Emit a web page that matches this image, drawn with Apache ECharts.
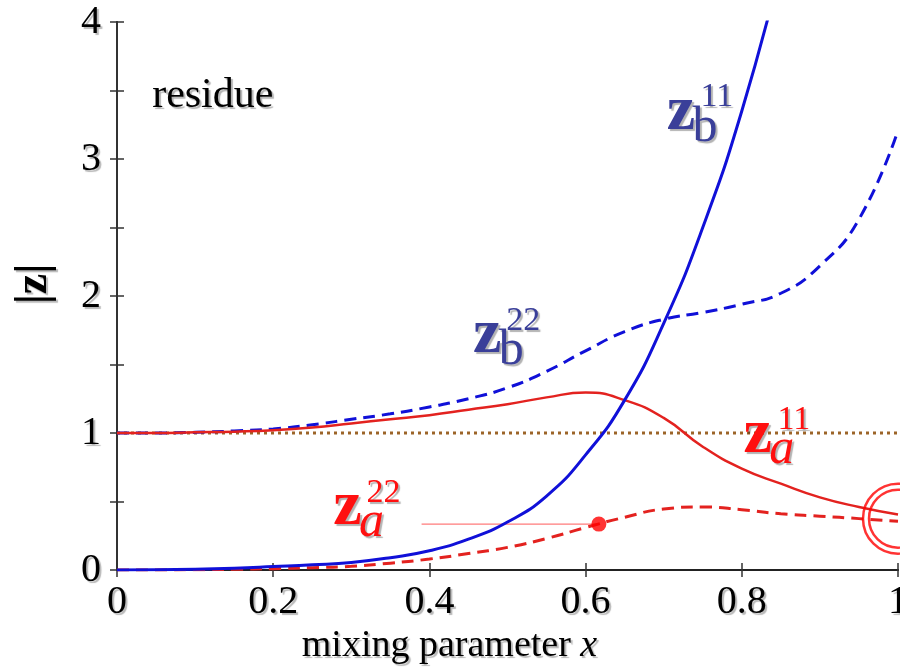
<!DOCTYPE html>
<html>
<head>
<meta charset="utf-8">
<script src="https://cdn.jsdelivr.net/npm/echarts@6/dist/echarts.min.js"></script>
<style>
  html, body { margin: 0; padding: 0; background: #fff; }
  #main { width: 900px; height: 667px; }
</style>
</head>
<body>
<div id="main"></div>
<script>
var zb11 = [[0, 0], [0.05, 0.001], [0.1, 0.005], [0.15, 0.013], [0.2, 0.025], [0.25, 0.038], [0.3, 0.055],
  [0.35, 0.09], [0.4, 0.14], [0.45, 0.225], [0.5, 0.35], [0.55, 0.54], [0.6, 0.84], [0.65, 1.24],
  [0.7, 1.8], [0.75, 2.5], [0.8, 3.35], [0.85, 4.4]]
var zb22 = [[0, 1], [0.05, 1.0], [0.1, 1.005], [0.15, 1.015], [0.2, 1.03], [0.25, 1.06], [0.3, 1.1],
  [0.35, 1.14], [0.4, 1.19], [0.45, 1.25], [0.5, 1.33], [0.55, 1.45], [0.6, 1.6], [0.65, 1.74],
  [0.7, 1.83], [0.75, 1.88], [0.8, 1.94], [0.85, 2.02], [0.9, 2.22], [0.95, 2.56], [1.0, 3.21]]
var za11 = [[0, 1], [0.05, 1.0], [0.1, 1.005], [0.15, 1.01], [0.2, 1.02], [0.25, 1.04], [0.3, 1.07],
  [0.35, 1.1], [0.4, 1.13], [0.45, 1.17], [0.5, 1.21], [0.55, 1.26], [0.6, 1.295], [0.65, 1.24],
  [0.7, 1.11], [0.75, 0.9], [0.8, 0.74], [0.85, 0.63], [0.9, 0.53], [0.95, 0.46], [1.0, 0.405]]
var za22 = [[0, 0], [0.05, 0], [0.1, 0.002], [0.15, 0.005], [0.2, 0.01], [0.25, 0.017], [0.3, 0.027],
  [0.35, 0.05], [0.4, 0.08], [0.45, 0.12], [0.5, 0.165], [0.55, 0.23], [0.6, 0.31], [0.65, 0.385],
  [0.7, 0.445], [0.75, 0.46], [0.8, 0.44], [0.85, 0.41], [0.9, 0.393], [0.95, 0.375], [1.0, 0.355]]
var unity = [[0, 1], [1, 1]]
var marker = [[0.617, 0.335]]
var markerGuide = [[0.39, 0.335], [0.617, 0.335]]
var ring = [[1.0, 0.375]]

var xTicks = { min: 0, max: 1, interval: 0.2 }
var yTicks = { min: 0, max: 4, interval: 0.5 }

var serif = '"Liberation Serif", "DejaVu Serif", serif'
var shadow = { textShadowColor: 'rgba(0,0,0,0.28)', textShadowOffsetX: 2, textShadowOffsetY: 2, textShadowBlur: 1 }
var blueLbl = '#3a3f99'
var redLbl = '#ff1010'

// label anchors (data coords of the big "z"), sub = subscript letter, sup = superscript
var labels = [
  { at: [0.722, 3.34], sub: 'b', sup: '11', color: blueLbl, italic: false },
  { at: [0.474, 1.71], sub: 'b', sup: '22', color: blueLbl, italic: false },
  { at: [0.8205, 0.985], sub: 'a', sup: '11', color: redLbl, italic: true },
  { at: [0.295, 0.453], sub: 'a', sup: '22', color: redLbl, italic: true }
]

var chart = echarts.init(document.getElementById('main'))

var tickLabel = Object.assign({ fontFamily: serif, fontSize: 40, color: '#000' }, shadow)

var option = {
  backgroundColor: '#fff',
  animation: false,
  grid: { left: 117, right: 2, top: 22, bottom: 97, outerBoundsMode: 'none', containLabel: false },
  xAxis: [
    {
      type: 'value', min: xTicks.min, max: xTicks.max, interval: xTicks.interval,
      name: 'mixing parameter {i|x}', nameLocation: 'middle', nameGap: 50,
      // right padding pulls the title a bit left of the axis middle, like the original
      nameTextStyle: Object.assign({ fontFamily: serif, fontSize: 38, color: '#000', padding: [0, 116, 0, 0],
        rich: { i: Object.assign({ fontFamily: serif, fontSize: 38, fontStyle: 'italic', color: '#000' }, shadow) } }, shadow),
      axisLine: { lineStyle: { color: '#333', width: 2 } },
      axisTick: { inside: true, length: 7, lineStyle: { color: '#333', width: 1.5 } },
      axisLabel: Object.assign({ margin: 12 }, tickLabel),
      splitLine: { show: false }
    },
    {
      type: 'value', position: 'top', min: xTicks.min, max: xTicks.max, interval: xTicks.interval,
      axisLine: { lineStyle: { color: '#222', width: 2 } },
      axisTick: { inside: true, length: 7, lineStyle: { color: '#333', width: 1.5 } },
      axisLabel: { show: false },
      splitLine: { show: false }
    }
  ],
  yAxis: [
    {
      type: 'value', min: yTicks.min, max: yTicks.max, interval: yTicks.interval,
      name: '|z|', nameLocation: 'middle', nameGap: 60, nameRotate: 90,
      nameTextStyle: Object.assign({ fontFamily: serif, fontSize: 46, fontWeight: 'bold', color: '#000', padding: [0, 0, 0, 24] }, shadow),
      axisLine: { lineStyle: { color: '#333', width: 2 } },
      axisTick: { inside: true, length: 7, lineStyle: { color: '#333', width: 1.5 } },
      axisLabel: Object.assign({
        margin: 16,
        formatter: function (v) { return v % 1 === 0 ? String(v) : '' }
      }, tickLabel),
      splitLine: { show: false }
    },
    {
      type: 'value', position: 'right', min: yTicks.min, max: yTicks.max, interval: yTicks.interval,
      axisLine: { lineStyle: { color: '#333', width: 2 } },
      axisTick: { inside: true, length: 7, lineStyle: { color: '#333', width: 1.5 } },
      axisLabel: { show: false },
      splitLine: { show: false }
    }
  ],
  series: [
    {
      name: 'unity', type: 'line', data: unity, symbol: 'none', z: 1,
      lineStyle: { color: '#9c6428', width: 3, type: [3, 4] }
    },
    {
      name: 'zb22', type: 'line', data: zb22, symbol: 'none', smooth: 0.5, z: 3,
      lineStyle: { color: '#1010d8', width: 3, type: [12, 7] }
    },
    {
      name: 'za11', type: 'line', data: za11, symbol: 'none', smooth: 0.5, z: 3,
      lineStyle: { color: '#e3221f', width: 2.5 }
    },
    {
      name: 'za22', type: 'line', data: za22, symbol: 'none', smooth: 0.5, z: 3,
      lineStyle: { color: '#e3221f', width: 3, type: [12, 7] }
    },
    {
      name: 'zb11', type: 'line', data: zb11, symbol: 'none', smooth: 0.5, z: 4,
      lineStyle: { color: '#1010d8', width: 3 }
    },
    {
      name: 'guide', type: 'line', data: markerGuide, symbol: 'none', z: 2,
      lineStyle: { color: '#ff5a5a', width: 1 }
    },
    {
      name: 'point', type: 'scatter', data: marker, symbolSize: 15, z: 5,
      itemStyle: { color: '#ff0000' }
    },
    // double ring at x = 1
    {
      name: 'ring', type: 'scatter', data: ring, symbolSize: 70, clip: false, z: 5,
      itemStyle: { color: 'rgba(0,0,0,0)', borderColor: '#ff0000', borderWidth: 2.5 }
    },
    {
      name: 'ring2', type: 'scatter', data: ring, symbolSize: 58, clip: false, z: 5,
      itemStyle: { color: 'rgba(0,0,0,0)', borderColor: '#ff0000', borderWidth: 2.5 }
    }
  ]
}
chart.setOption(option)

// text annotations placed through the grid's scales
function txt (pos, text, size, color, extra) {
  return {
    type: 'text', x: pos[0], y: pos[1], z: 100,
    style: Object.assign({
      text: text, fontFamily: serif, fontSize: size, fill: color,
      align: 'center', verticalAlign: 'middle'
    }, { textShadowColor: 'rgba(0,0,0,0.3)', textShadowOffsetX: 2, textShadowOffsetY: 2, textShadowBlur: 1 }, extra || {})
  }
}

var graphics = []
var resPos = chart.convertToPixel({ gridIndex: 0 }, [0.045, 3.46])
graphics.push(txt(resPos, 'residue', 42, '#000', { align: 'left' }))

labels.forEach(function (l) {
  var p = chart.convertToPixel({ gridIndex: 0 }, l.at)
  graphics.push(txt(p, 'z', 64, l.color, { fontWeight: 'bold' }))
  graphics.push(txt([p[0] + 24, p[1] + 15], l.sub, 50, l.color, { fontStyle: l.italic ? 'italic' : 'normal' }))
  graphics.push(txt([p[0] + 36, p[1] - 15], l.sup, 34, l.color))
})

chart.setOption({ graphic: graphics })
</script>
</body>
</html>
